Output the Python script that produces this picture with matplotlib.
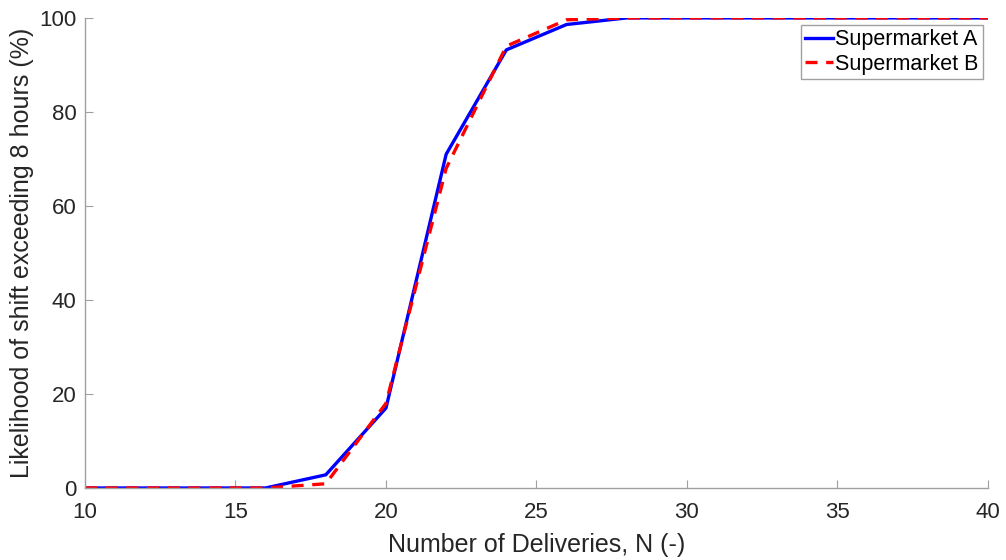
import matplotlib.pyplot as plt

# Data
n_deliveries = [10, 12, 14, 16, 18, 20, 22, 24, 26, 28, 30, 32, 34, 36, 38, 40]
market_a = [0, 0, 0, 0, 2.8, 17.0, 71.0, 93.2, 98.6, 100, 100, 100, 100, 100, 100, 100]
market_b = [0, 0, 0, 0, 0.9, 18.0, 68.0, 94.0, 99.6, 100, 100, 100, 100, 100, 100, 100]

plt.rcParams['font.family'] = ['Liberation Sans', 'DejaVu Sans']

fig = plt.figure(figsize=(10.06, 5.6), dpi=100)
ax = fig.add_axes([0.0845, 0.1286, 0.8975, 0.8394])

ax.plot(n_deliveries, market_a, '-', color='#0000ff', linewidth=2.4, label='Supermarket A')
ax.plot(n_deliveries, market_b, '--', color='#ff0000', linewidth=2.4, dashes=(3.6, 2.6),
        label='Supermarket B')

ax.set_xlim(10, 40)
ax.set_ylim(0, 100)
ax.set_xticks(range(10, 41, 5))
ax.set_yticks(range(0, 101, 20))

for side in ['top', 'right']:
    ax.spines[side].set_visible(False)
for side in ['left', 'bottom']:
    ax.spines[side].set_color('#a0a0a0')
    ax.spines[side].set_linewidth(1.0)
ax.tick_params(direction='in', length=6, color='#a0a0a0', labelcolor='#262626', labelsize=16)
ax.tick_params(axis='x', pad=10)
ax.tick_params(axis='y', pad=6)

ax.set_xlabel('Number of Deliveries, N (-)', fontsize=18, color='#262626', labelpad=7)
ax.set_ylabel('Likelihood of shift exceeding 8 hours (%)', fontsize=18, color='#262626',
              labelpad=4)

leg = ax.legend(loc='upper right', bbox_to_anchor=(0.9945, 0.985), fontsize=15.5,
                handlelength=1.3, handletextpad=0.1, borderpad=0.2, labelspacing=0.15,
                borderaxespad=0, fancybox=False, framealpha=1)
leg.get_frame().set_edgecolor('#a0a0a0')
leg.get_frame().set_linewidth(1.0)

fig.savefig('out.png', dpi=100)
